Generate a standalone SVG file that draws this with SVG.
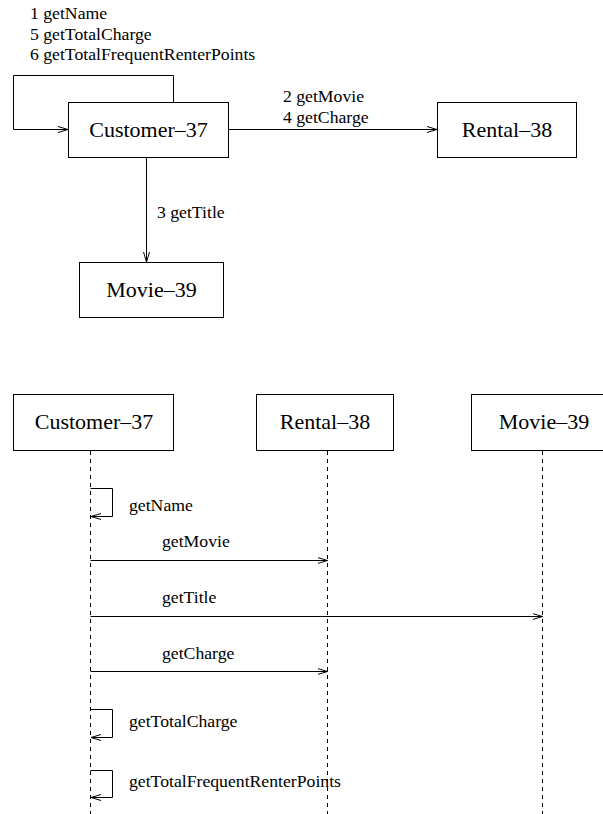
<svg xmlns="http://www.w3.org/2000/svg" width="603" height="814" viewBox="0 0 603 814">
<style>
  .box { fill: #fff; stroke: #000; stroke-width: 1; }
  .name { font-family: "Liberation Serif", "Times New Roman", serif; font-size: 22px; fill: #000; text-anchor: middle; }
  .lbl { font-family: "Liberation Serif", "Times New Roman", serif; font-size: 17.7px; fill: #000; }
  .conn { fill: none; stroke: #000; stroke-width: 1; }
  .life { fill: none; stroke: #000; stroke-width: 1; stroke-dasharray: 4 4; }
</style>
<defs>
  <marker id="arr" markerUnits="userSpaceOnUse" markerWidth="12" markerHeight="8" refX="10" refY="3.5" orient="auto" viewBox="0 0 12 8">
    <path d="M0,0.5 L10,3.5 L0,6.5" fill="none" stroke="#000" stroke-width="1"/>
  </marker>
</defs>

<!-- Collaboration diagram -->
<g id="collab-customer">
  <rect class="box" x="68.5" y="102.5" width="160" height="55"/>
  <text class="name" x="148.5" y="137">Customer–37</text>
</g>
<g id="collab-rental">
  <rect class="box" x="437.5" y="102.5" width="139" height="55"/>
  <text class="name" x="507" y="137">Rental–38</text>
</g>
<g id="collab-movie">
  <rect class="box" x="79.5" y="262.5" width="144" height="55"/>
  <text class="name" x="151.5" y="297">Movie–39</text>
</g>

<g id="collab-connectors">
  <polyline class="conn" points="173.5,102.5 173.5,75.5 13.5,75.5 13.5,129.5 68,129.5" marker-end="url(#arr)"/>
  <line class="conn" x1="228.5" y1="129.5" x2="437" y2="129.5" marker-end="url(#arr)"/>
  <line class="conn" x1="146.5" y1="157.5" x2="146.5" y2="262" marker-end="url(#arr)"/>
  <text class="lbl" x="30" y="19">1 getName</text>
  <text class="lbl" x="30" y="39.5">5 getTotalCharge</text>
  <text class="lbl" x="30" y="60">6 getTotalFrequentRenterPoints</text>
  <text class="lbl" x="283" y="102">2 getMovie</text>
  <text class="lbl" x="283" y="123">4 getCharge</text>
  <text class="lbl" x="157" y="218">3 getTitle</text>
</g>

<!-- Sequence diagram -->
<g id="seq-customer">
  <rect class="box" x="13.5" y="394.5" width="160" height="56"/>
  <text class="name" x="94" y="429">Customer–37</text>
</g>
<g id="seq-rental">
  <rect class="box" x="256.5" y="394.5" width="137" height="56"/>
  <text class="name" x="325" y="429">Rental–38</text>
</g>
<g id="seq-movie">
  <rect class="box" x="471.5" y="394.5" width="146" height="56"/>
  <text class="name" x="544" y="429">Movie–39</text>
</g>

<g id="seq-connectors">
  <line class="life" x1="90.5" y1="451" x2="90.5" y2="814"/>
  <line class="life" x1="327.5" y1="451" x2="327.5" y2="814"/>
  <line class="life" x1="542.5" y1="451" x2="542.5" y2="814"/>

  <polyline class="conn" points="90.5,488.5 112.5,488.5 112.5,516.5 91,516.5" marker-end="url(#arr)"/>
  <text class="lbl" x="129" y="511">getName</text>

  <line class="conn" x1="90.5" y1="560.5" x2="327.5" y2="560.5" marker-end="url(#arr)"/>
  <text class="lbl" x="162" y="547">getMovie</text>

  <line class="conn" x1="90.5" y1="616.5" x2="542.5" y2="616.5" marker-end="url(#arr)"/>
  <text class="lbl" x="162" y="603">getTitle</text>

  <line class="conn" x1="90.5" y1="671.5" x2="327.5" y2="671.5" marker-end="url(#arr)"/>
  <text class="lbl" x="162" y="659">getCharge</text>

  <polyline class="conn" points="90.5,709.5 112.5,709.5 112.5,737.5 91,737.5" marker-end="url(#arr)"/>
  <text class="lbl" x="129" y="727">getTotalCharge</text>

  <polyline class="conn" points="90.5,770.5 112.5,770.5 112.5,797.5 91,797.5" marker-end="url(#arr)"/>
  <text class="lbl" x="129" y="787">getTotalFrequentRenterPoints</text>
</g>
</svg>
